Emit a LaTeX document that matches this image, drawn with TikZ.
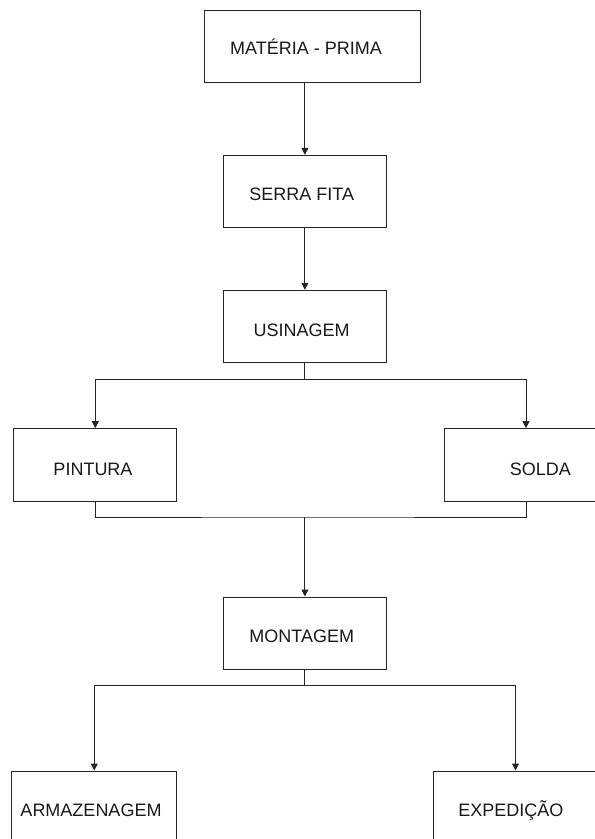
\documentclass[tikz,border=0pt]{standalone}
\usepackage{fontspec}
\setmainfont{Liberation Sans}
\usetikzlibrary{arrows.meta}
\begin{document}
\begin{tikzpicture}[x=1pt,y=-1pt,
  box/.style={draw=black!85, line width=1pt, inner sep=0pt, minimum width=162.8pt, minimum height=72.4pt},
  lbl/.style={anchor=base, inner sep=0pt, font=\fontsize{18}{20}\selectfont, text=black!90},
  conn/.style={draw=black!85, line width=1pt},
  arr/.style={conn, -{Triangle[length=7pt,width=7pt]}}]
\useasboundingbox (0,0) rectangle (595,839);
\clip (0,0) rectangle (595,839);
% boxes
\node[box, minimum width=216pt, minimum height=72pt] (b1) at (312,46.3) {};
\node[box] (b2) at (304.9,191.5) {};
\node[box] (b3) at (304.9,326.5) {};
\node[box, minimum width=163.2pt] (b4) at (95.3,464.85) {};
\node[box, minimum width=163.2pt] (b5) at (526,464.85) {};
\node[box, minimum height=72pt] (b6) at (304.9,633) {};
\node[box, minimum width=165pt, minimum height=72pt] (b7) at (94.3,807) {};
\node[box, minimum width=165pt, minimum height=72pt] (b8) at (515.5,807) {};
% labels
\node[lbl] (t1) at (306,54.7) {MATÉRIA - PRIMA};
\node[lbl] (t2) at (301.7,200.7) {SERRA FITA};
\node[lbl] (t3) at (301.7,336.4) {USINAGEM};
\node[lbl] (t4) at (93,475.4) {PINTURA};
\node[lbl] (t5) at (540.3,475.4) {SOLDA};
\node[lbl] (t6) at (301.7,642.1) {MONTAGEM};
\node[lbl] (t7) at (91,816.4) {ARMAZENAGEM};
\node[lbl] (t8) at (510.8,816.4) {EXPEDIÇÃO};
% connectors
\draw[arr] (b2.north |- b1.south) -- (b2.north);
\draw[arr] (b2.south) -- (b3.north);
\coordinate (j1) at (304.9,379);
\draw[arr] (b3.south) -- (j1) -| (b4.north);
\draw[arr] (j1) -| (b5.north);
\coordinate (j2) at (304.9,517);
\draw[conn] (b4.south) |- (j2) -| (b5.south);
\draw[arr] (j2) -- (b6.north);
\coordinate (j3) at (304.9,685);
\draw[arr] (b6.south) -- (j3) -| (b7.north);
\draw[arr] (j3) -| (b8.north);
\end{tikzpicture}
\end{document}
